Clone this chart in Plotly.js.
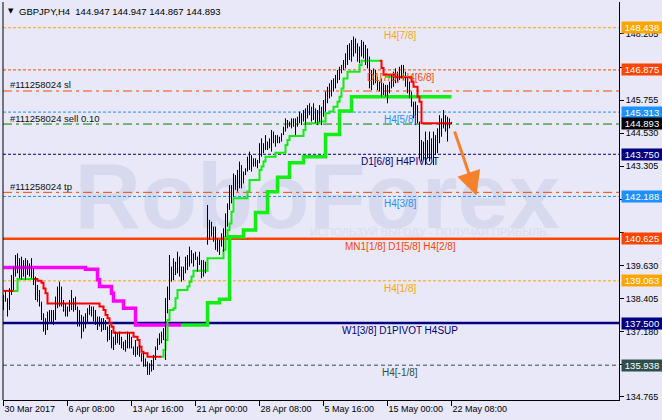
<!DOCTYPE html>
<html><head><meta charset="utf-8">
<script src="https://cdn.plot.ly/plotly-3.0.1.min.js"></script>
<style>html,body{margin:0;padding:0;background:#e8e8f8;}#chart{width:662px;height:420px;}</style>
</head><body><div id="chart"></div>
<script>
const symbol = 'GBPJPY';
const timeframe = 'H4';
const titleOHLC = [144.947, 144.947, 144.867, 144.893];

const highs = [
138.54,138.72,138.42,138.79,139.28,139.59,140.02,140.08,139.90,139.96,
139.83,139.90,139.83,139.71,139.90,139.53,139.22,138.91,138.72,138.29,
137.86,137.68,137.92,137.98,137.98,137.98,138.48,138.85,139.03,138.85,
138.35,138.23,138.11,138.35,138.72,138.42,138.48,138.11,137.98,137.80,
137.74,137.86,138.05,138.17,138.11,138.11,137.98,137.74,137.74,137.68,
137.68,137.61,137.37,137.43,137.24,136.99,137.18,137.12,137.18,136.99,
136.81,136.87,137.18,137.12,136.99,136.63,136.87,136.63,136.69,136.38,
136.38,136.19,136.07,136.01,136.13,136.32,136.63,136.93,137.12,
137.18,137.31,138.43,
138.85,140.02,139.59,139.90,139.77,140.14,139.96,139.59,139.59,139.96,
140.02,140.33,140.20,140.08,140.14,139.96,140.14,139.83,139.83,139.77,
141.87,141.32,141.25,141.07,141.07,140.64,140.58,140.82,141.01,141.56,
141.93,142.61,142.61,143.04,142.98,143.17,143.48,143.35,143.11,143.23,
143.66,143.85,143.72,143.60,143.60,143.54,144.16,144.34,144.16,144.46,
144.22,144.34,144.65,144.59,144.46,144.46,144.40,144.53,144.77,145.08,
145.02,144.96,145.08,145.08,145.08,145.14,145.33,
145.27,145.39,145.45,145.57,145.64,145.51,145.64,145.45,145.39,145.57,
145.51,145.76,146.07,146.25,146.38,146.50,146.56,146.69,146.87,146.99,
147.06,147.24,147.49,147.80,147.86,147.98,148.11,148.04,147.86,147.74,
147.98,147.92,147.80,147.67,147.37,146.87,146.93,146.87,146.63,146.44,
146.56,146.38,146.32,146.32,146.44,146.69,146.81,146.93,146.81,146.99,
147.06,147.06,146.81,146.63,146.44,146.07,145.70,145.70,145.57,144.96,
144.28,144.22,144.59,144.28,144.59,144.34,144.59,144.46,144.71,145.20,
145.08,145.39,145.20,145.14,145.08,144.947];

const lows = [
137.98,138.29,137.74,137.98,138.54,138.72,139.22,139.34,139.16,139.09,
139.22,139.09,139.28,139.22,139.16,138.91,138.35,138.29,138.11,137.61,
137.18,137.06,137.24,137.55,137.49,137.43,137.61,138.05,138.11,138.11,
137.92,137.74,137.74,137.92,137.98,137.92,137.98,137.37,137.37,136.93,
137.18,137.30,137.49,137.80,137.74,137.55,137.43,137.24,137.37,137.18,
137.24,137.24,136.81,136.87,136.56,136.50,136.69,136.75,136.69,136.56,
136.50,136.44,136.56,136.56,136.56,136.32,136.25,136.32,136.25,136.07,
135.88,135.88,135.58,135.58,135.70,135.76,136.13,136.50,136.69,
136.75,136.87,136.13,
137.86,138.35,139.03,139.09,139.28,139.34,139.22,139.03,139.09,139.34,
139.46,139.59,139.71,139.59,139.83,139.40,139.65,139.16,139.22,139.34,
140.40,140.58,140.70,140.51,140.21,140.14,140.02,140.33,140.14,140.70,
141.07,141.69,141.93,142.18,142.43,142.37,142.49,142.49,142.67,142.98,
143.11,143.17,143.11,143.29,143.29,143.23,143.42,143.66,143.79,143.91,
143.91,143.97,143.85,144.16,144.03,144.16,144.16,144.22,144.46,144.59,
144.71,144.77,144.71,144.77,144.46,144.77,144.90,
144.83,144.96,144.83,145.08,145.20,144.96,145.02,144.90,144.83,144.96,
144.83,145.14,145.33,145.64,145.82,145.89,146.07,146.19,146.38,146.50,
146.75,146.87,146.93,147.06,147.24,147.18,147.37,147.49,147.18,147.12,
147.37,147.30,147.06,146.93,146.19,146.13,146.32,146.38,146.13,146.07,
145.89,145.95,145.89,145.64,146.01,146.19,146.25,146.38,146.44,146.50,
146.56,146.50,146.25,146.01,145.82,145.51,145.08,144.83,144.90,143.60,
143.48,143.54,143.35,143.60,143.48,143.60,143.35,143.72,143.79,144.16,
144.40,144.71,144.59,144.22,144.71,144.867];

// time axis (bar index of each labelled bar)
const xTickIdx = [0, 32, 64, 96, 128, 160, 192, 224];
const xTickText = ['30 Mar 2017','6 Apr 08:00','13 Apr 16:00','21 Apr 00:00','28 Apr 08:00','5 May 16:00','15 May 00:00','22 May 08:00'];
// price axis ticks; labels covered by the price boxes are left blank
const yTickVals = [148.205,146.980,145.755,144.530,143.305,142.080,140.855,139.630,138.405,137.180,135.955,134.765];
const yTickText = ['148.205','','145.755','144.530','143.305','','','139.630','138.405','137.180','','134.765'];

// Murrey levels
const levelPrices = [148.438,146.875,145.313,143.750,142.188,140.625,139.063,137.500,135.938];
const levelLabels = ['H4[7/8]','D1[7/8] H4[6/8]','H4[5/8]','D1[6/8] H4PIVOT','H4[3/8]','MN1[1/8] D1[5/8] H4[2/8]','H4[1/8]','W1[3/8] D1PIVOT H4SUP','H4[-1/8]'];

// order lines
const orderPrices = [146.094, 144.870, 142.340];
const orderLabels = ['#111258024 sl', '#111258024 sell 0.10', '#111258024 tp'];
const bidPrice = 144.893;

// step indicator (fast): bar index of each step, value
const fastDnIdx = [0,5,null,15,17,19,20,21,22,47,48,50,51,52,53,54,55,64,65,67,68,69,70,72,79,null,188,189,190,196,204,205,207,208,209,224];
const fastDnVal = [138.69,138.69,null,139.13,139.07,138.99,138.78,138.60,138.22,138.22,138.11,137.98,137.80,137.68,137.49,137.36,137.14,137.14,136.99,136.87,136.62,136.44,136.38,136.25,136.25,null,147.21,146.95,146.70,146.60,146.44,146.25,145.88,145.70,144.90,144.90];
const fastUpIdx = [3,7,15,null,79,80,81,82,83,85,86,87,92,93,94,95,102,110,111,112,113,114,115,122,123,128,129,130,131,136,141,142,143,150,151,158,161,163,165,167,168,169,170,172,178,179,188,null,191,204];
const fastUpVal = [138.69,139.13,139.13,null,136.25,136.50,136.87,137.61,137.98,138.05,138.42,138.72,138.85,139.03,139.22,139.44,139.90,140.21,140.70,140.95,141.19,141.62,142.12,142.37,142.80,143.17,143.30,143.48,143.66,143.81,144.09,144.28,144.43,144.65,144.90,144.96,145.27,145.33,145.51,145.70,145.88,146.19,146.56,146.81,147.06,147.21,147.21,null,146.62,146.62];
// step indicator (slow)
const slowDnIdx = [0,41,47,48,54,55,60,66,89];
const slowDnVal = [139.56,139.49,139.10,138.85,138.60,138.32,138.05,137.43,137.43];
const slowUpIdx = [89,102,108,113,120,126,132,137,143,150,161,168,174,224];
const slowUpVal = [137.43,138.25,138.38,140.70,140.95,141.59,142.36,142.90,143.44,143.66,144.48,145.35,145.88,145.88];

// forecast arrow (bar index / price of tail and tip)
const arrowFrom = [225.3, 144.65];
const arrowTo = [236.5, 142.22];

const FONT = 'Liberation Sans, Arial, sans-serif';
const levelStyle = [
  {c:'#FFA500', d:'3px,2px', w:1},
  {c:'#FF4500', d:'3px,2px', w:1},
  {c:'#1E90FF', d:'3px,2px', w:1},
  {c:'#000080', d:'3px,2px', w:1},
  {c:'#1E90FF', d:'3px,2px', w:1},
  {c:'#FF4500', d:'solid', w:2.5},
  {c:'#FFA500', d:'3px,2px', w:1},
  {c:'#000080', d:'solid', w:2.5},
  {c:'#2F4F4F', d:'4px,3px', w:1}
];
const orderColors = ['#FF4500', '#008000', '#FF4500'];

// bars as high-low vertical strokes
const bx = [], by = [];
highs.forEach((h, i) => { bx.push(i, i, null); by.push(lows[i], h, null); });

const traces = [
  {x: slowDnIdx, y: slowDnVal, type:'scatter', mode:'lines', line:{color:'#FF00FF', width:3.5, shape:'hv'}},
  {x: slowUpIdx, y: slowUpVal, type:'scatter', mode:'lines', line:{color:'#11EE11', width:3.5, shape:'hv'}},
  {x: fastUpIdx, y: fastUpVal, type:'scatter', mode:'lines', line:{color:'#11EE11', width:2, shape:'hv'}},
  {x: fastDnIdx, y: fastDnVal, type:'scatter', mode:'lines', line:{color:'#FF0000', width:2, shape:'hv'}},
  {x: bx, y: by, type:'scatter', mode:'lines', line:{color:'#000000', width:1}}
];

const shapes = [];
shapes.push({type:'rect', xref:'paper', yref:'paper', x0:0.05, x1:0.97, y0:0.43, y1:0.64, layer:'below',
  line:{width:0}, fillcolor:'rgba(0,0,0,0)',
  label:{text:'<b>RoboForex</b>', textposition:'middle center', font:{family:FONT, size:92, color:'#d7daee'}}});
shapes.push({type:'rect', xref:'paper', yref:'paper', x0:0.45, x1:0.93, y0:0.41, y1:0.44, layer:'below',
  line:{width:0}, fillcolor:'rgba(0,0,0,0)',
  label:{text:'ИСПОЛЬЗУЙ ВЫГОДУ - ПОЛУЧАЙ ПРИБЫЛЬ', textposition:'middle center', font:{family:FONT, size:11, color:'#dadcef'}}});
levelPrices.forEach((p, k) => {
  const s = levelStyle[k];
  shapes.push({type:'line', xref:'paper', yref:'y', x0:0, x1:1, y0:p, y1:p, layer:'below', line:{color:s.c, width:s.w, dash:s.d}});
});
orderPrices.forEach((p, k) => {
  shapes.push({type:'line', xref:'paper', yref:'y', x0:0, x1:1, y0:p, y1:p, layer:'below', line:{color:orderColors[k], width:1, dash:'9px,4px,3px,4px'}});
});
shapes.push({type:'line', xref:'paper', yref:'paper', x0:0, x1:0, y0:0, y1:1, line:{color:'#000', width:1}});

const ann = [];
ann.push({xref:'paper', yref:'paper', x:0, y:1, xanchor:'left', yanchor:'middle', xshift:3, yshift:-9, showarrow:false,
  text:'▼', font:{family:'DejaVu Sans', size:7, color:'#000'}});
ann.push({xref:'paper', yref:'paper', x:0, y:1, xanchor:'left', yanchor:'middle', xshift:14, yshift:-9, showarrow:false,
  text: symbol + ',' + timeframe + '\u00a0\u00a0' + titleOHLC.map(v => v.toFixed(3)).join(' '),
  font:{family:FONT, size:9.5, color:'#000'}});
orderPrices.forEach((p, k) => {
  ann.push({xref:'paper', yref:'y', x:0, y:p, xanchor:'left', yanchor:'middle', xshift:5, yshift:6, showarrow:false,
    text: orderLabels[k], font:{family:FONT, size:9.5, color:'#111'}});
});
levelPrices.forEach((p, k) => {
  ann.push({xref:'paper', yref:'y', x:0.6445, y:p, xanchor:'center', yanchor:'middle', yshift:-7.5, showarrow:false,
    text: levelLabels[k], font:{family:FONT, size:10, color:levelStyle[k].c}});
});
const boxes = levelPrices.map((p, k) => ({p:p, c:levelStyle[k].c})).concat([{p:bidPrice, c:'#000000'}]);
boxes.forEach(b => {
  ann.push({xref:'paper', yref:'y', x:1, y:b.p, xanchor:'left', yanchor:'middle', xshift:2, showarrow:false,
    text: b.p.toFixed(3), bgcolor:b.c, borderpad:0, width:40, height:11,
    font:{family:FONT, size:9.5, color:'#ffffff'}});
});
ann.push({xref:'x', yref:'y', axref:'x', ayref:'y', x:arrowTo[0], y:arrowTo[1], ax:arrowFrom[0], ay:arrowFrom[1],
  text:'', showarrow:true, arrowhead:2, arrowsize:1.6, arrowwidth:3, arrowcolor:'#F5822A'});

const layout = {
  width:662, height:420,
  margin:{l:3, r:43, t:2, b:20, pad:0},
  paper_bgcolor:'#e8e8f8', plot_bgcolor:'#e8e8f8',
  showlegend:false, hovermode:false,
  font:{family:FONT, size:9, color:'#000'},
  xaxis:{range:[-0.25, 307.75], showgrid:false, zeroline:false, showline:true, linecolor:'#000', linewidth:1,
    ticks:'outside', ticklen:5, tickcolor:'#000', tickvals:xTickIdx, ticktext:xTickText,
    ticklabelposition:'outside right', tickfont:{family:FONT, size:9, color:'#000'}, automargin:false, fixedrange:true},
  yaxis:{range:[134.649, 149.390], side:'right', showgrid:false, zeroline:false, showline:true, linecolor:'#000', linewidth:1,
    ticks:'outside', ticklen:4, tickcolor:'#000', tickvals:yTickVals, ticktext:yTickText,
    tickfont:{family:FONT, size:9, color:'#000'}, automargin:false, fixedrange:true},
  shapes: shapes,
  annotations: ann
};
Plotly.newPlot('chart', traces, layout, {staticPlot:true, displayModeBar:false});
</script>
</body></html>
